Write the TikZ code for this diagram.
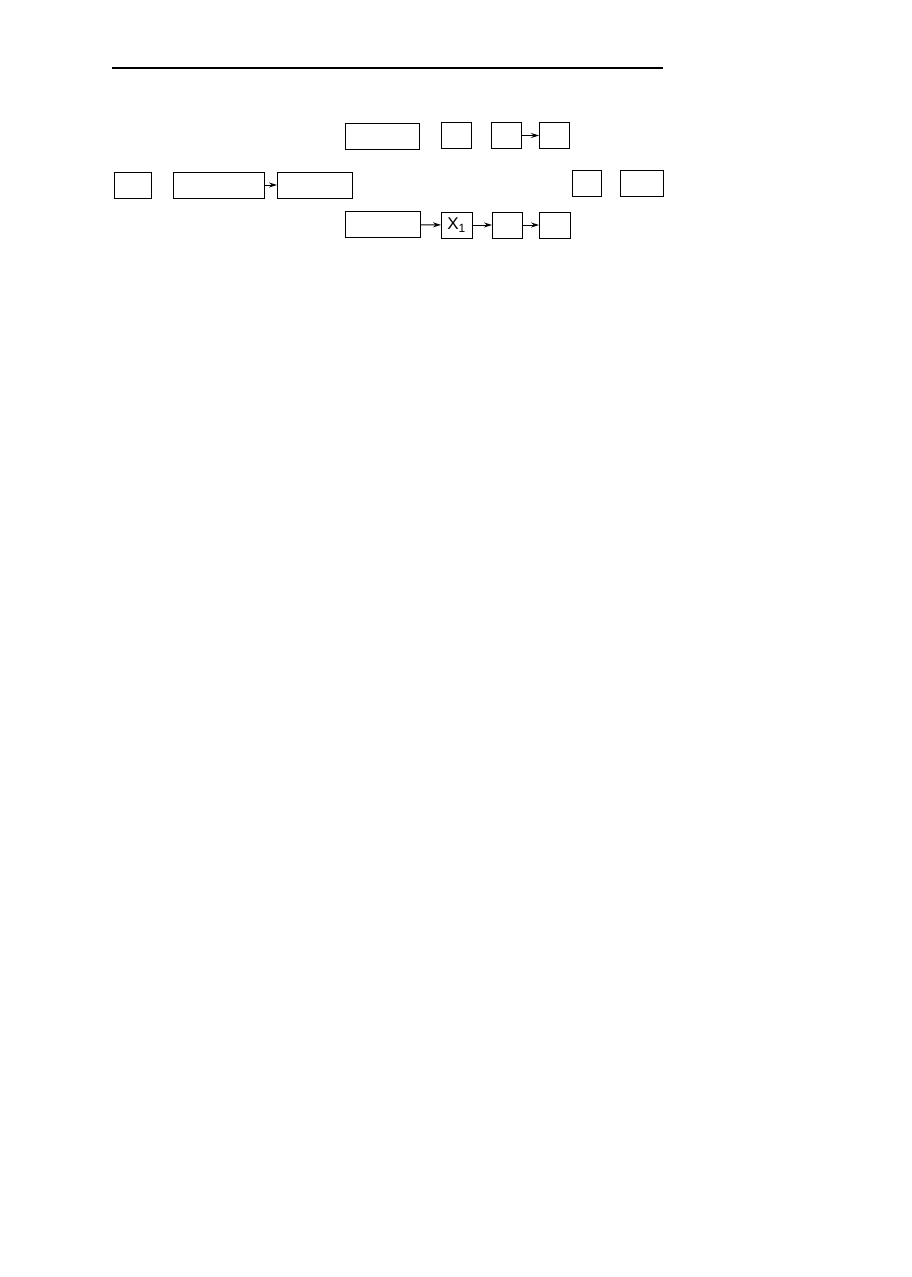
\documentclass[tikz,border=0pt]{standalone}
\usepackage{fontspec}
\setsansfont{Liberation Sans}
\usetikzlibrary{positioning}
\usetikzlibrary{arrows.meta}

\begin{document}
\begin{tikzpicture}[x=1pt,y=-1pt,->,>={Stealth[length=8pt,width=5pt]},line width=1pt,
                block/.style={draw,rectangle,inner sep=0pt,outer sep=0pt,minimum height=26pt,font=\sffamily\fontsize{17}{20}\selectfont}]
  \useasboundingbox (0,0) rectangle (912,1277);

  % rule at the top
  \coordinate (ruleL) at (112,68);
  \coordinate (ruleR) at (663,68);
  \draw[-,line width=1.4pt] (ruleL) -- (ruleR);

  % middle row, left
  \node[block,minimum width=37pt] (in) at (132.5,185) {};
  \node[block,minimum width=91pt] (pre) at (218.5,185) {};
  \node[block,minimum width=75pt] (split) at (314.5,185) {};

  % upper branch
  \node[block,minimum width=74pt] (up1) at (382,136) {};
  \node[block,minimum width=30pt] (up2) at (456,135.5) {};
  \node[block,minimum width=30pt] (up3) at (506,135.5) {};
  \node[block,minimum width=30pt] (up4) at (554,135.5) {};

  % lower branch
  \node[block,minimum width=75pt] (low1) at (382.5,224.5) {};
  \node[block,minimum width=31pt] (low2) at (456.5,225) {X$_{\mathsf{1}}$};
  \node[block,minimum width=30pt] (low3) at (507,225) {};
  \node[block,minimum width=31pt] (low4) at (554.5,225) {};

  % middle row, right
  \node[block,minimum width=29pt] (out1) at (586.5,183) {};
  \node[block,minimum width=43pt] (out2) at (641.5,183) {};

  \path
    (pre) edge (split)
    (up3) edge (up4)
    (low1) edge (low2)
    (low2) edge (low3)
    (low3) edge (low4);
\end{tikzpicture}
\end{document}
